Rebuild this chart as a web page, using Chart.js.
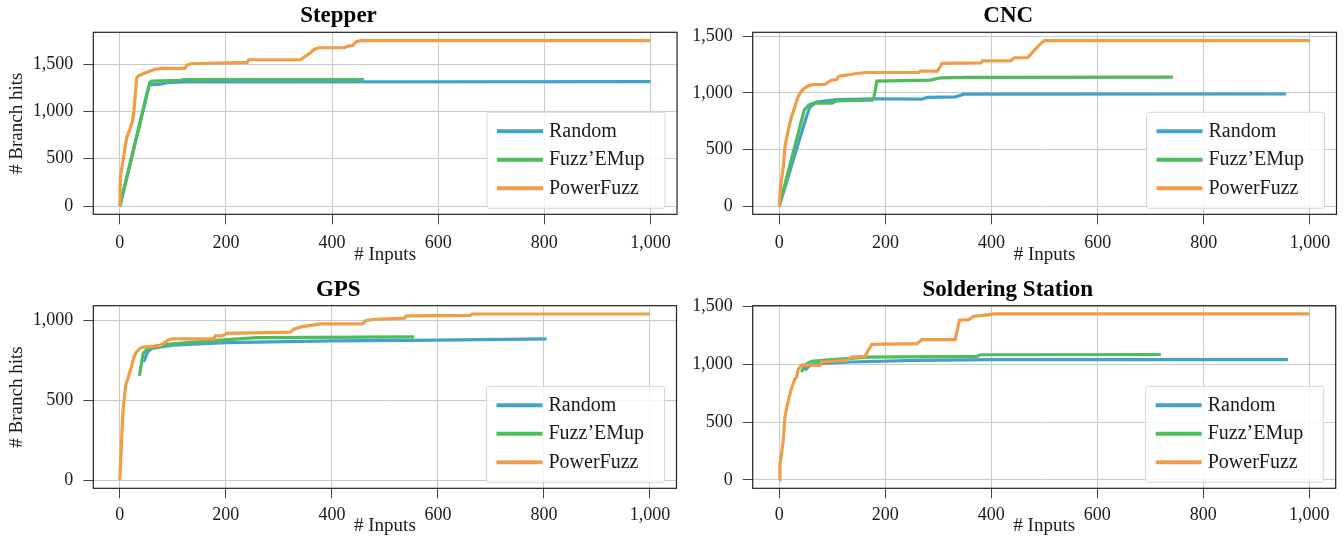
<!DOCTYPE html>
<html lang="en">
<head>
    <meta charset="UTF-8">
    <title>Branch hits per input</title>
    <!-- Chart.js CDN -->
    <script src="https://cdn.jsdelivr.net/npm/chart.js"></script>
    <style>
        body { margin: 0; background: #fff; }
        #wrap { position: relative; width: 1343px; height: 537px; overflow: hidden; }
        #wrap canvas { position: absolute; }
    </style>
</head>
<body>
<div id="wrap">
    <canvas id="stepper" width="680" height="270" style="left:0;top:0"></canvas>
    <canvas id="cnc" width="663" height="270" style="left:680px;top:0"></canvas>
    <canvas id="gps" width="680" height="267" style="left:0;top:270px"></canvas>
    <canvas id="solder" width="663" height="267" style="left:680px;top:270px"></canvas>
</div>

<script>
    // series names (legend order)
    const seriesNames = ['Random', 'Fuzz’EMup', 'PowerFuzz'];
    const lineColors = ['#44a2c9', '#4dbd5b', '#f19d47'];

    // tick labels
    const xTicks = [0, 200, 400, 600, 800, 1000];
    const stepperYTicks = [0, 500, 1000, 1500];
    const cncYTicks = [0, 500, 1000, 1500];
    const gpsYTicks = [0, 500, 1000];
    const solderYTicks = [0, 500, 1000, 1500];

    // [# inputs, # branch hits]
    const stepperRandom = [[0, 0], [56, 1290], [60, 1285], [76, 1290], [90, 1305], [120, 1312], [1000, 1315]];
    const stepperFuzz = [[0, 0], [56, 1305], [60, 1322], [114, 1330], [120, 1338], [460, 1338]];
    const stepperPower = [[0, 0], [1, 300], [4, 410], [13, 727], [18, 797], [24, 900], [26.5, 1005], [32, 1360],
        [35, 1376], [44, 1400], [57, 1428], [66, 1446], [79, 1456], [123, 1456], [126, 1488], [133, 1505],
        [240, 1519], [243, 1547], [341, 1547], [348, 1579], [357, 1611], [366, 1656], [375, 1674], [423, 1674],
        [430, 1691], [439, 1698], [445, 1737], [455, 1750], [1000, 1750]];

    const cncRandom = [[0, 0], [52, 800], [58, 876], [70, 918], [108, 940], [178, 948], [269, 945], [279, 960],
        [332, 965], [348, 988], [955, 990]];
    const cncFuzz = [[0, 0], [47, 847], [55, 890], [64, 910], [99, 908], [108, 928], [175, 935], [178, 950],
        [184, 1103], [285, 1112], [304, 1133], [355, 1136], [742, 1139]];
    const cncPower = [[0, 0], [2.5, 170], [7.6, 345], [10.7, 520], [17, 670], [23, 788], [29.6, 876], [34, 950],
        [39, 994], [45, 1032], [55, 1062], [64, 1074], [86, 1074], [93, 1097], [99, 1112], [108, 1118], [112, 1147],
        [127, 1156], [146, 1171], [165, 1180], [263, 1180], [266, 1192], [298, 1192], [307, 1260], [380, 1265],
        [383, 1283], [436, 1283], [443, 1310], [468, 1310], [481, 1378], [493, 1437], [500, 1462], [1000, 1462]];

    const gpsRandom = [[45, 740], [52, 800], [60, 825], [100, 845], [200, 862], [400, 872], [600, 877], [805, 885]];
    const gpsFuzz = [[37, 653], [44, 795], [50, 816], [63, 837], [88, 851], [196, 879], [259, 893], [555, 898]];
    const gpsPower = [[0, 0], [3, 226], [6, 435], [11, 592], [16, 644], [22, 711], [27, 774], [32, 805], [38, 826],
        [44, 833], [76, 841], [82, 858], [92, 879], [98, 885], [177, 885], [180, 904], [193, 904], [202, 920],
        [322, 927], [328, 946], [344, 962], [379, 979], [458, 979], [464, 1000], [483, 1008], [537, 1015],
        [540, 1029], [660, 1032], [665, 1041], [1000, 1041]];

    const solderRandom = [[48, 947], [58, 991], [71, 1005], [134, 1020], [260, 1034], [400, 1040], [960, 1040]];
    const solderFuzz = [[42, 933], [45, 962], [52, 1005], [61, 1025], [83, 1034], [165, 1063], [373, 1069],
        [380, 1083], [720, 1085]];
    const solderPower = [[0, 0], [1.3, 139], [4.4, 225], [7.6, 340], [10.7, 543], [17, 687], [23, 788], [29.6, 875],
        [33, 889], [35, 947], [39, 976], [44, 996], [77, 990], [80, 1020], [127, 1034], [137, 1063], [162, 1069],
        [168, 1121], [175, 1173], [260, 1179], [269, 1213], [332, 1213], [340, 1381], [358, 1387], [367, 1416],
        [386, 1424], [405, 1436], [1000, 1436]];

    Chart.defaults.font.family = '"Liberation Serif", "DejaVu Serif", serif';
    Chart.defaults.color = '#1a1a1a';

    // frame around the plot + legend box in the lower right corner
    const frameAndLegend = {
        id: 'frameAndLegend',
        afterDatasetsDraw(chart) {
            const ctx = chart.ctx;
            const a = chart.chartArea;
            ctx.save();
            ctx.strokeStyle = '#222';
            ctx.lineWidth = 1.2;
            ctx.strokeRect(a.left, a.top, a.right - a.left, a.bottom - a.top);

            const lx = a.right - 190, ly = a.bottom - 102, lw = 178, lh = 96;
            ctx.beginPath();
            ctx.roundRect(lx, ly, lw, lh, 2);
            ctx.fillStyle = 'rgba(255,255,255,0.8)';
            ctx.fill();
            ctx.strokeStyle = '#d6d6d6';
            ctx.lineWidth = 1;
            ctx.stroke();

            ctx.font = '20px "Liberation Serif"';
            ctx.textBaseline = 'middle';
            chart.data.datasets.forEach((ds, i) => {
                const y = ly + 19 + i * 28.5;
                ctx.strokeStyle = ds.borderColor;
                ctx.lineWidth = 4;
                ctx.beginPath();
                ctx.moveTo(lx + 10, y);
                ctx.lineTo(lx + 56, y);
                ctx.stroke();
                ctx.fillStyle = '#1a1a1a';
                ctx.fillText(ds.label, lx + 62, y);
            });
            ctx.restore();
        }
    };

    const gridStyle = { color: '#cacaca', lineWidth: 1, tickLength: 10, tickColor: '#444' };

    function drawPanel(id, title, series, yTicks, yMin, yMax, box) {
        const ctx = document.getElementById(id).getContext('2d');
        return new Chart(ctx, {
            type: 'line',
            data: {
                datasets: series.map((pts, i) => ({
                    label: seriesNames[i],
                    data: pts.map(p => ({ x: p[0], y: p[1] })),
                    borderColor: lineColors[i],
                    borderWidth: 3.2,
                    pointRadius: 0,
                    tension: 0,
                    order: series.length - i
                }))
            },
            options: {
                responsive: false,
                animation: false,
                devicePixelRatio: 1,
                layout: { padding: { left: 0, right: box.right, top: 0, bottom: 0 } },
                plugins: {
                    legend: { display: false },
                    tooltip: { enabled: false },
                    title: {
                        display: true,
                        text: title,
                        color: '#000',
                        font: { size: 23, weight: 'bold' },
                        padding: { top: box.titleTop, bottom: box.titleBottom }
                    }
                },
                scales: {
                    x: {
                        type: 'linear',
                        min: -50,
                        max: 1050,
                        afterBuildTicks: s => { s.ticks = xTicks.map(v => ({ value: v })); },
                        afterFit: s => { s.height = box.xh; },
                        grid: gridStyle,
                        border: { display: false },
                        ticks: { padding: box.xp, font: { size: 18 }, callback: v => v.toLocaleString('en-US') },
                        title: { display: true, text: '# Inputs', font: { size: 19 }, padding: { top: 0, bottom: box.xtb } }
                    },
                    y: {
                        type: 'linear',
                        min: yMin,
                        max: yMax,
                        afterBuildTicks: s => { s.ticks = yTicks.map(v => ({ value: v })); },
                        afterFit: s => { s.width = box.yw; },
                        grid: gridStyle,
                        border: { display: false },
                        ticks: { padding: 10, font: { size: 18 }, callback: v => v.toLocaleString('en-US') },
                        title: { display: box.yTitle, text: '# Branch hits', font: { size: 19 }, padding: { top: 5.6, bottom: 0 } }
                    }
                }
            },
            plugins: [frameAndLegend]
        });
    }

    drawPanel('stepper', 'Stepper', [stepperRandom, stepperFuzz, stepperPower], stepperYTicks, -87.5, 1837.5,
        { right: 3, titleTop: 2.2, titleBottom: 2.5, xh: 55.7, xp: 7.9, xtb: 3.6, yw: 93.3, yTitle: true });
    drawPanel('cnc', 'CNC', [cncRandom, cncFuzz, cncPower], cncYTicks, -73, 1535,
        { right: 6.5, titleTop: 2.2, titleBottom: 2.5, xh: 55.7, xp: 7.9, xtb: 3.6, yw: 72.7, yTitle: false });
    drawPanel('gps', 'GPS', [gpsRandom, gpsFuzz, gpsPower], gpsYTicks, -52, 1093,
        { right: 3.5, titleTop: 6.2, titleBottom: 1.9, xh: 48.7, xp: 5.9, xtb: 0, yw: 93.3, yTitle: true });
    drawPanel('solder', 'Soldering Station', [solderRandom, solderFuzz, solderPower], solderYTicks, -72, 1507,
        { right: 7.3, titleTop: 6.2, titleBottom: 1.9, xh: 48.7, xp: 5.9, xtb: 0, yw: 72.7, yTitle: false });
</script>
</body>
</html>
